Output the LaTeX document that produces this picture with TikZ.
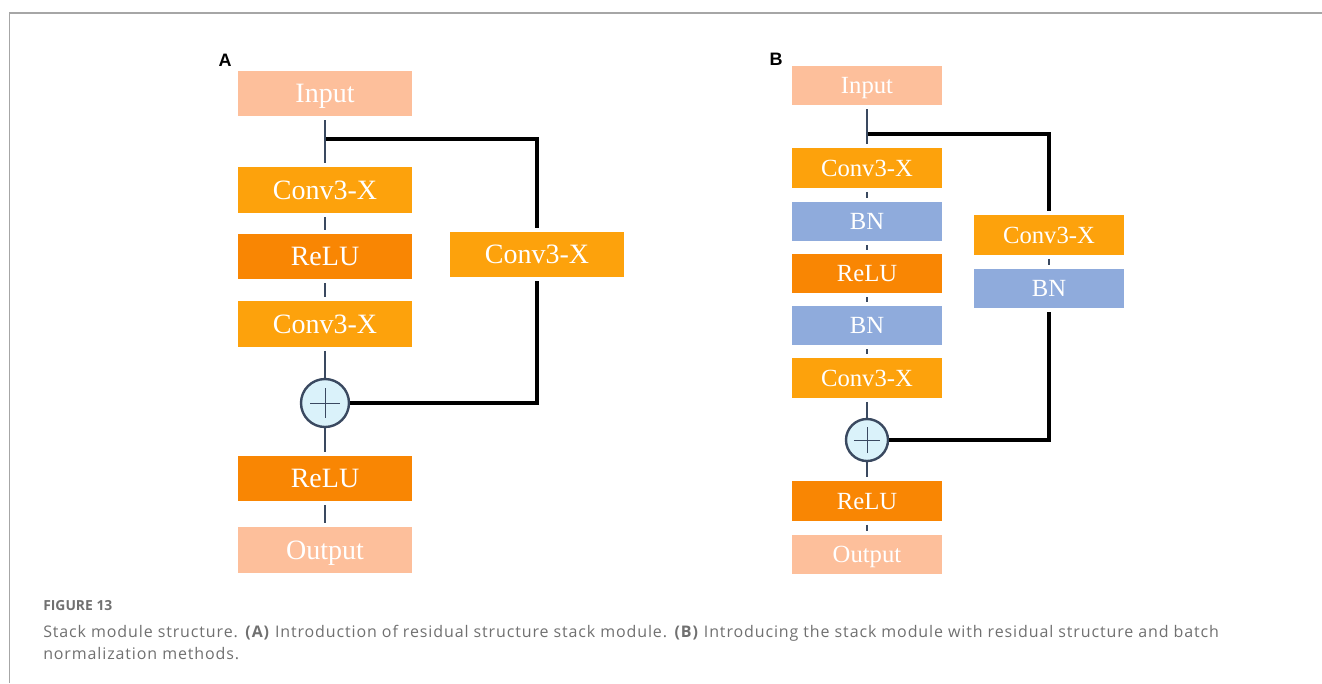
\documentclass[tikz,border=0pt]{standalone}
\usepackage{fontspec}
\setmainfont{Liberation Serif}
\newfontfamily\capfont[LetterSpace=5.5]{Open Sans}
\newfontfamily\capheadfont{Open Sans}
\newfontfamily\panelfont{Liberation Sans}
\definecolor{inoutc}{HTML}{FDBF9B}
\definecolor{convc}{HTML}{FDA20C}
\definecolor{reluc}{HTML}{F98603}
\definecolor{bnc}{HTML}{8FABDC}
\definecolor{wirec}{HTML}{3A4960}
\definecolor{sumc}{HTML}{DAF2FA}
\definecolor{framec}{HTML}{A6A6A6}
\definecolor{captionc}{HTML}{707070}
\begin{document}
\begin{tikzpicture}[x=0.75pt,y=-0.75pt,
  box/.style={rectangle, inner sep=0pt, text=white, text depth=0pt},
  boxA/.style={box, minimum width=130.5pt, minimum height=34pt, text height=13.9pt, font=\fontsize{21}{21}\selectfont},
  boxB/.style={box, minimum width=112.5pt, minimum height=29.5pt, text height=12.25pt, font=\fontsize{18.5}{18.5}\selectfont},
  inout/.style={fill=inoutc},
  conv/.style={fill=convc},
  relu/.style={fill=reluc},
  bn/.style={fill=bnc},
  sum/.style={circle, draw=wirec, line width=1.8pt, fill=sumc, inner sep=0pt, minimum size=#1,
    path picture={
      \draw[wirec, line width=0.75pt]
        ([xshift=-0.31*#1]path picture bounding box.center) -- ([xshift=0.31*#1]path picture bounding box.center)
        ([yshift=-0.31*#1]path picture bounding box.center) -- ([yshift=0.31*#1]path picture bounding box.center);}},
  link/.style={draw=wirec, line width=1.7pt, shorten <=3pt, shorten >=3pt},
  skip/.style={draw=black, line width=2.4pt},
  panel/.style={font=\panelfont\bfseries\fontsize{13.5}{13.5}\selectfont},
  capstyle/.style={anchor=base west, inner sep=0pt, text=captionc, font=\capfont\fontsize{12}{14}\selectfont}]
\useasboundingbox (0,0) rectangle (1322,683);

% outer frame (top and left rules)
\draw[framec, line width=1.1pt] (9.5,683) -- (9.5,13) -- (1322,13);

% ---------- panel A ----------
\node[panel] (labA) at (225,60) {A};
\node[boxA, inout] (inA)  at (325,93.5)  {Input};
\node[boxA, conv]  (c1A)  at (325,190)   {Conv3-X};
\node[boxA, relu]  (rA)   at (325,256.5) {ReLU};
\node[boxA, conv]  (c2A)  at (325,324)   {Conv3-X};
\node[sum=36pt]    (plusA) at (325,403)  {};
\node[boxA, relu]  (r2A)  at (325,478.5) {ReLU};
\node[boxA, inout] (outA) at (325,550)   {Output};
\node[boxA, conv]  (sA)   at (537,254.5) {Conv3-X};
\coordinate (jA) at (325,139);

\draw[skip] (jA) -| (sA) [shorten >=3pt];
\draw[skip, shorten <=3pt] (sA) |- (plusA);
\draw[link] (inA) -- (c1A);
\draw[link] (c1A) -- (rA);
\draw[link] (rA) -- (c2A);
\draw[link, shorten >=0pt] (c2A) -- (plusA);
\draw[link, shorten <=0pt] (plusA) -- (r2A);
\draw[link] (r2A) -- (outA);

% ---------- panel B ----------
\node[panel] (labB) at (776,59) {B};
\node[boxB, inout] (inB)  at (867,85.5)  {Input};
\node[boxB, conv]  (c1B)  at (867,168)   {Conv3-X};
\node[boxB, bn]    (b1B)  at (867,221.5) {BN};
\node[boxB, relu]  (rB)   at (867,273.5) {ReLU};
\node[boxB, bn]    (b2B)  at (867,325.5) {BN};
\node[boxB, conv]  (c2B)  at (867,378)   {Conv3-X};
\node[sum=31.5pt]  (plusB) at (867,440)  {};
\node[boxB, relu]  (r2B)  at (867,501)   {ReLU};
\node[boxB, inout] (outB) at (867,554.5) {Output};
\node[boxB, conv]  (sB)   at (1049,235)  {Conv3-X};
\node[boxB, bn]    (sbB)  at (1049,288.5) {BN};
\coordinate (jB) at (867,134);

\draw[skip] (jB) -| (sB) [shorten >=3pt];
\draw[skip, shorten <=3pt] (sbB) |- (plusB);
\draw[link] (sB) -- (sbB);
\draw[link] (inB) -- (c1B);
\draw[link] (c1B) -- (b1B);
\draw[link] (b1B) -- (rB);
\draw[link] (rB) -- (b2B);
\draw[link] (b2B) -- (c2B);
\draw[link, shorten >=0pt] (c2B) -- (plusB);
\draw[link, shorten <=0pt] (plusB) -- (r2B);
\draw[link] (r2B) -- (outB);

% ---------- caption ----------
\node[capstyle, font=\capheadfont\bfseries\fontsize{10.4}{12}\selectfont] (figno) at (43,610) {FIGURE 13};
\node[capstyle] (cap1) at (43,637) {Stack module structure. \textbf{(A)} Introduction of residual structure stack module. \textbf{(B)} Introducing the stack module with residual structure and batch};
\node[capstyle] (cap2) at (43,659) {normalization methods.};
\end{tikzpicture}
\end{document}
